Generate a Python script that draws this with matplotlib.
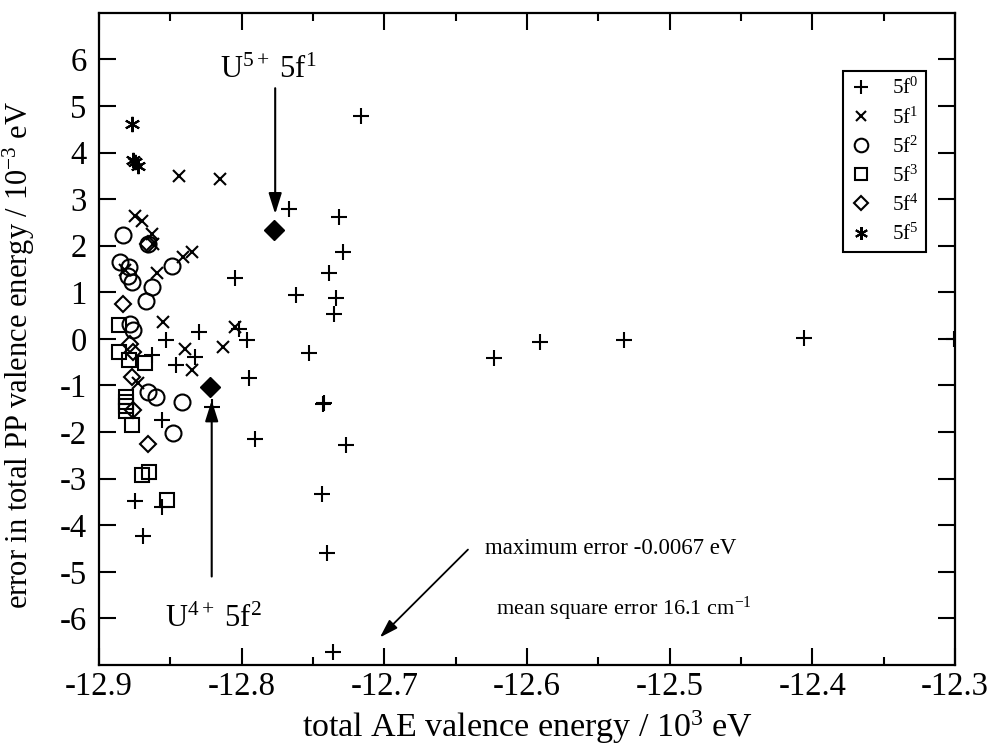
import matplotlib
matplotlib.use("Agg")
import matplotlib.pyplot as plt

plt.rcParams["font.family"] = ["Liberation Serif", "DejaVu Serif"]
plt.rcParams["mathtext.fontset"] = "custom"
plt.rcParams["mathtext.rm"] = "Liberation Serif"
plt.rcParams["mathtext.it"] = "Liberation Serif:italic"
plt.rcParams["mathtext.bf"] = "Liberation Serif:bold"
plt.rcParams["axes.unicode_minus"] = False

# ── data: total AE valence energy (10^3 eV) vs PP error (10^-3 eV) ─────────────
f0_x = [-12.805, -12.716, -12.767, -12.732, -12.729, -12.739, -12.762, -12.734,
        -12.735, -12.830, -12.853, -12.802, -12.796, -12.833, -12.863, -12.846,
        -12.795, -12.753, -12.743, -12.742, -12.821, -12.856, -12.791, -12.727,
        -12.744, -12.740, -12.736, -12.875, -12.856, -12.869, -12.623, -12.591,
        -12.532, -12.406, -12.301]
f0_y = [1.30, 4.79, 2.79, 2.61, 1.87, 1.41, 0.95, 0.88,
        0.54, 0.15, -0.03, 0.22, -0.03, -0.39, -0.35, -0.57,
        -0.85, -0.30, -1.40, -1.38, -1.46, -1.75, -2.15, -2.28,
        -3.33, -4.60, -6.71, -3.49, -3.60, -4.22, -0.40, -0.06,
        -0.02, 0.02, 0.00]

f1_x = [-12.844, -12.815, -12.875, -12.870, -12.863, -12.862, -12.835, -12.841,
        -12.855, -12.805, -12.840, -12.813, -12.835, -12.873, -12.882, -12.859]
f1_y = [3.50, 3.43, 2.64, 2.54, 2.25, 2.04, 1.86, 1.75,
        0.36, 0.25, -0.21, -0.17, -0.67, -0.95, 1.47, 1.42]

f2_x = [-12.883, -12.866, -12.849, -12.885, -12.879, -12.880, -12.877, -12.863,
        -12.867, -12.878, -12.876, -12.866, -12.860, -12.842, -12.848]
f2_y = [2.22, 2.04, 1.57, 1.65, 1.54, 1.36, 1.22, 1.11,
        0.82, 0.33, 0.18, -1.14, -1.25, -1.35, -2.03]

f3_x = [-12.886, -12.886, -12.879, -12.868, -12.881, -12.881, -12.881, -12.881,
        -12.877, -12.870, -12.865, -12.852]
f3_y = [0.29, -0.28, -0.46, -0.52, -1.25, -1.35, -1.45, -1.55,
        -1.85, -2.92, -2.85, -3.46]

f4_x = [-12.866, -12.883, -12.878, -12.876, -12.877, -12.876, -12.866]
f4_y = [2.04, 0.75, -0.10, -0.28, -0.82, -1.53, -2.26]

f5_x = [-12.877, -12.876, -12.875, -12.873]
f5_y = [4.61, 3.85, 3.80, 3.71]

# highlighted ions: U5+ 5f1 and U4+ 5f2
hl_x = [-12.777, -12.822]
hl_y = [2.34, -1.03]

fig = plt.figure(figsize=(9.93, 7.49), dpi=100)
ax = fig.add_axes([0.0997, 0.1121, 0.862, 0.8709])

kw = dict(linestyle="none", color="black", markerfacecolor="none", markeredgewidth=1.5)
ax.plot(f0_x, f0_y, marker="+", markersize=12, label=r"5f$^0$", **kw)
ax.plot(f1_x, f1_y, marker="x", markersize=9, label=r"5f$^1$", **kw)
ax.plot(f2_x, f2_y, marker="o", markersize=11.5, label=r"5f$^2$", **kw)
ax.plot(f3_x, f3_y, marker="s", markersize=10, label=r"5f$^3$", **kw)
ax.plot(f4_x, f4_y, marker="D", markersize=8, label=r"5f$^4$", **kw)
ax.plot(f5_x, f5_y, marker=(6, 2, 0), markersize=11, label=r"5f$^5$", **kw)
ax.plot(hl_x, hl_y, linestyle="none", marker="D", markersize=10,
        color="black", markeredgewidth=1.0)

ax.set_xlim(-12.9, -12.3)
ax.set_ylim(-7, 7)
ax.set_xticks([-12.9, -12.8, -12.7, -12.6, -12.5, -12.4, -12.3])
ax.set_xticklabels(["-12.9", "-12.8", "-12.7", "-12.6", "-12.5", "-12.4", "-12.3"])
ax.set_xticks([-12.85, -12.75, -12.65, -12.55, -12.45, -12.35], minor=True)
ax.set_yticks(range(-6, 7))
ax.tick_params(which="both", direction="in", top=True, right=True, width=1.5,
               labelsize=23.5)
ax.tick_params(which="major", length=12)
ax.tick_params(which="minor", length=6)
ax.tick_params(axis="y", pad=9)
ax.tick_params(axis="x", pad=5)
for sp in ax.spines.values():
    sp.set_linewidth(1.6)

ax.set_xlabel(r"total AE valence energy / 10$^3$ eV", fontsize=24.5, labelpad=4)
ax.set_ylabel(r"error in total PP valence energy / 10$^{-3}$ eV", fontsize=22)
ax.yaxis.set_label_coords(-0.073, 0.475)

# annotations
arrow_kw = dict(arrowstyle="-|>,head_length=0.7,head_width=0.22", color="black",
                lw=1.5, mutation_scale=18)
ax.text(-12.781, 5.59, r"U$^{5+}$ 5f$^1$", fontsize=22, ha="center", va="baseline")
ax.annotate("", xy=(-12.7765, 2.62), xytext=(-12.7765, 5.44), arrowprops=arrow_kw)
ax.text(-12.82, -6.19, r"U$^{4+}$ 5f$^2$", fontsize=22, ha="center", va="baseline")
ax.annotate("", xy=(-12.821, -1.26), xytext=(-12.821, -5.16), arrowprops=arrow_kw)
ax.text(-12.6295, -4.5, "maximum error -0.0067 eV", fontsize=16.5,
        ha="left", va="center")
ax.annotate("", xy=(-12.7045, -6.45), xytext=(-12.64, -4.48),
            arrowprops=dict(arrowstyle="-|>,head_length=0.7,head_width=0.22",
                            color="black", lw=1.3, mutation_scale=16))
ax.text(-12.6215, -5.8, r"mean square error 16.1 cm$^{-1}$", fontsize=16,
        ha="left", va="center")

leg = ax.legend(loc="upper right", bbox_to_anchor=(0.966, 0.911), borderaxespad=0,
                fontsize=15, fancybox=False, edgecolor="black", framealpha=1,
                handlelength=1.0, handletextpad=1.0, labelspacing=0.38,
                borderpad=0.35, numpoints=1)
leg.get_frame().set_linewidth(1.5)
for h in leg.legend_handles:
    h.set_markersize(h.get_markersize() * 0.85)

fig.savefig("out.png", dpi=100)
